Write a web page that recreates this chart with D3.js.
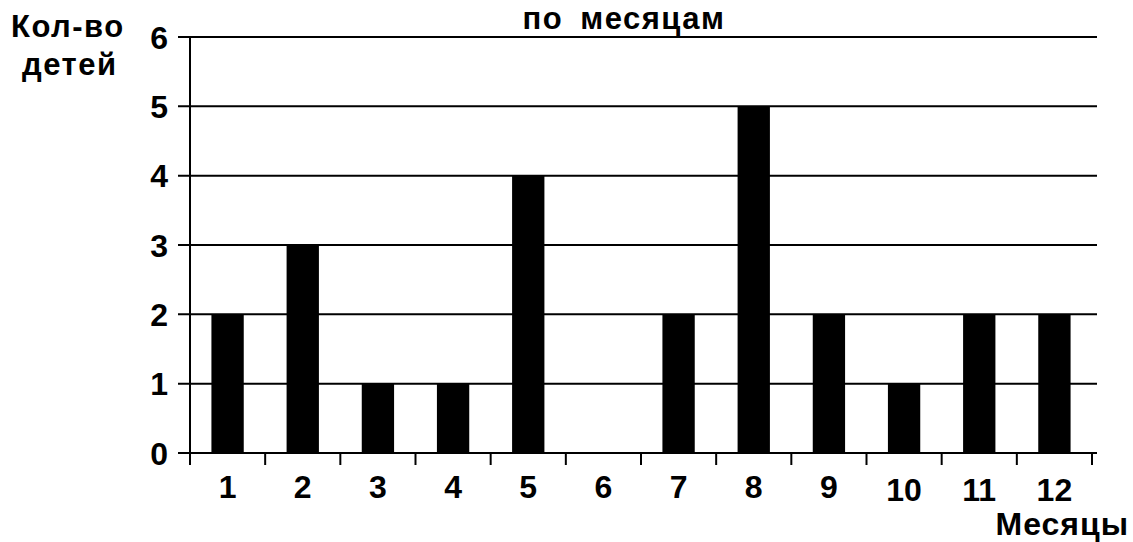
<!DOCTYPE html>
<html>
<head>
<meta charset="utf-8">
<script src="https://cdn.jsdelivr.net/npm/d3@7"></script>
<style>
  body { margin: 0; background: #fff; }
  text { font-family: "Liberation Sans", Arial, sans-serif; font-weight: bold; fill: #000; }
</style>
</head>
<body>
<svg id="graph" width="1133" height="542"></svg>
<script>
var months = ["1", "2", "3", "4", "5", "6", "7", "8", "9", "10", "11", "12"];
var kids = [2, 3, 1, 1, 4, 0, 2, 5, 2, 1, 2, 2];
var yTicks = [0, 1, 2, 3, 4, 5, 6];

var svg = d3.select("#graph");

var plotLeft = 190, plotRight = 1092, plotTop = 37, plotBottom = 453;

var x = d3.scaleBand()
    .domain(months)
    .range([plotLeft, plotRight])
    .paddingInner(0.57)
    .paddingOuter(0.285);

var y = d3.scaleLinear()
    .domain([0, 6])
    .range([plotBottom, plotTop]);

// horizontal grid lines, they also work as the y ticks
svg.append("g")
    .selectAll("line")
    .data(yTicks)
    .enter()
    .append("line")
    .attr("x1", 178)
    .attr("x2", 1097)
    .attr("y1", function(d) { return y(d); })
    .attr("y2", function(d) { return y(d); })
    .attr("stroke", "#000")
    .attr("stroke-width", 2);

svg.append("g")
    .selectAll("text")
    .data(yTicks)
    .enter()
    .append("text")
    .attr("x", 168)
    .attr("y", function(d) { return y(d); })
    .attr("dy", "0.36em")
    .attr("text-anchor", "end")
    .style("font-size", "32px")
    .text(function(d) { return d; });

// bars
svg.append("g")
    .selectAll("rect")
    .data(kids)
    .enter()
    .append("rect")
    .attr("x", function(d, i) { return x(months[i]); })
    .attr("y", function(d) { return y(d); })
    .attr("width", x.bandwidth())
    .attr("height", function(d) { return plotBottom - y(d); })
    .attr("fill", "#000");

// y axis line
svg.append("line")
    .attr("x1", plotLeft).attr("x2", plotLeft)
    .attr("y1", plotTop).attr("y2", 465)
    .attr("stroke", "#000")
    .attr("stroke-width", 2);

// x ticks at the band edges
var step = (plotRight - plotLeft) / months.length;
svg.append("g")
    .selectAll("line")
    .data(d3.range(months.length + 1))
    .enter()
    .append("line")
    .attr("x1", function(i) { return plotLeft + i * step; })
    .attr("x2", function(i) { return plotLeft + i * step; })
    .attr("y1", plotBottom)
    .attr("y2", 465)
    .attr("stroke", "#000")
    .attr("stroke-width", 2);

svg.append("g")
    .selectAll("text")
    .data(months)
    .enter()
    .append("text")
    .attr("x", function(d) { return x(d) + x.bandwidth() / 2; })
    .attr("y", function(d) { return +d >= 10 ? 501 : 498; })
    .attr("text-anchor", "middle")
    .style("font-size", "32px")
    .text(function(d) { return d; });

// labels
svg.append("text")
    .attr("x", 624).attr("y", 29)
    .attr("text-anchor", "middle")
    .style("font-size", "31px")
    .style("letter-spacing", "1.5px")
    .style("word-spacing", "7px")
    .text("по месяцам");

svg.append("text")
    .attr("x", 11).attr("y", 37)
    .style("font-size", "31px")
    .style("letter-spacing", "1.5px")
    .text("Кол-во");

svg.append("text")
    .attr("x", 22).attr("y", 75)
    .style("font-size", "31px")
    .style("letter-spacing", "1.5px")
    .text("детей");

svg.append("text")
    .attr("x", 1129).attr("y", 535)
    .attr("text-anchor", "end")
    .style("font-size", "32px")
    .style("letter-spacing", "1px")
    .text("Месяцы");
</script>
</body>
</html>
